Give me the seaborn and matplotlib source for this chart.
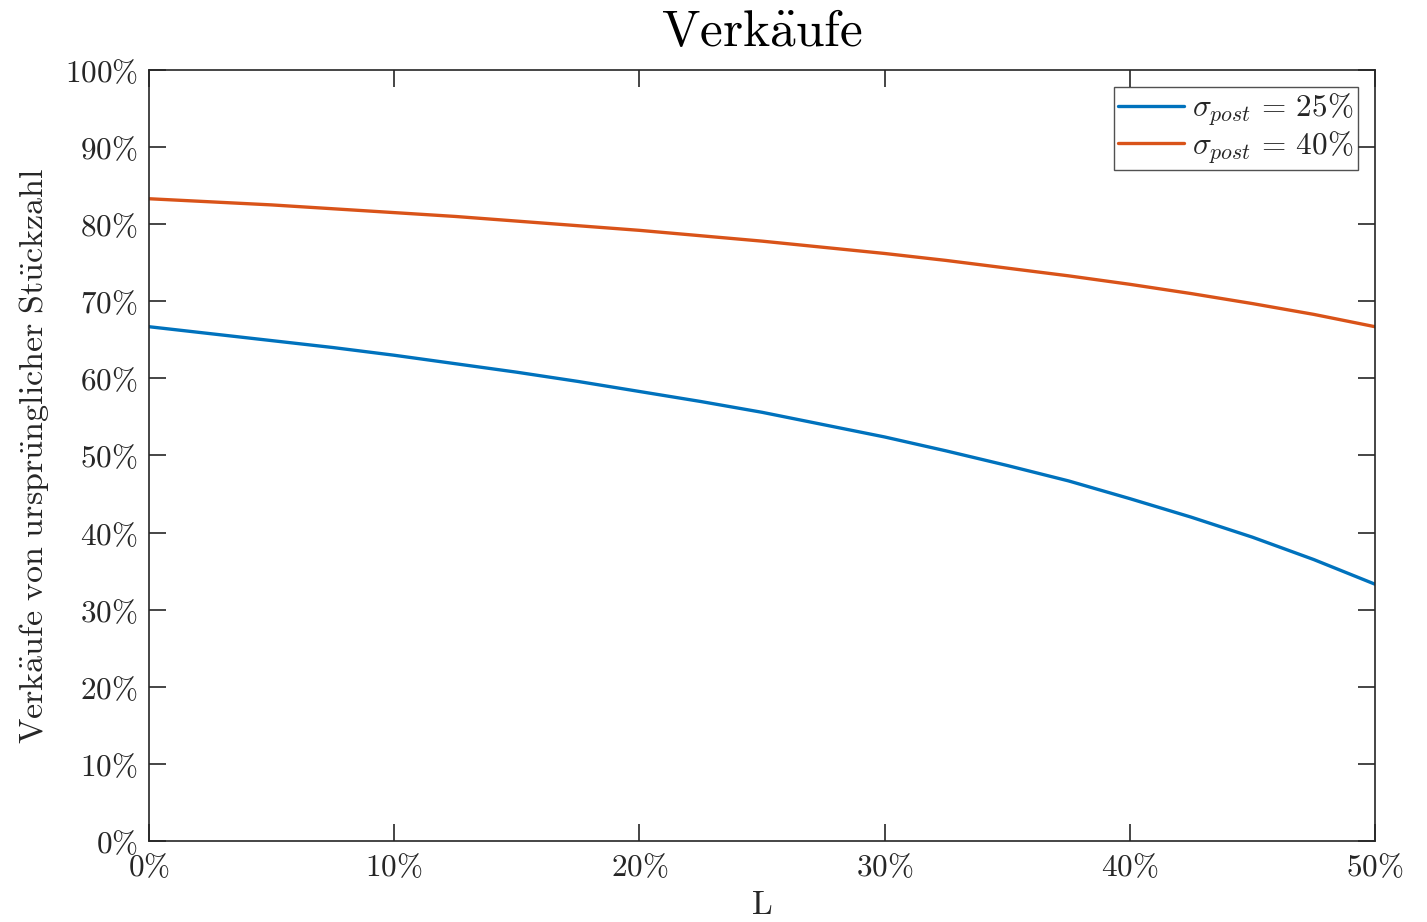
import numpy as np
import pandas as pd
import matplotlib
matplotlib.use('Agg')
import matplotlib.pyplot as plt
from matplotlib.ticker import FuncFormatter, MultipleLocator
import seaborn as sns

# L in percent, sales as percent of original quantity
L_values = [0, 2.5, 5, 7.5, 10, 12.5, 15, 17.5, 20, 22.5, 25,
            27.5, 30, 32.5, 35, 37.5, 40, 42.5, 45, 47.5, 50]
sales_sigma25 = [66.7, 65.8, 64.9, 64.0, 63.0, 61.9, 60.8, 59.6, 58.3, 57.0, 55.6,
                 54.0, 52.4, 50.6, 48.7, 46.7, 44.4, 42.0, 39.4, 36.5, 33.3]
sales_sigma40 = [83.3, 82.9, 82.5, 82.0, 81.5, 81.0, 80.4, 79.8, 79.2, 78.5, 77.8,
                 77.0, 76.2, 75.3, 74.3, 73.3, 72.2, 71.0, 69.7, 68.3, 66.7]
series_labels = [r'$\sigma_{post}\,=\,25\%$', r'$\sigma_{post}\,=\,40\%$']
series_colors = ['#0072BD', '#D95319']

df = pd.DataFrame({
    'L': L_values * 2,
    'sales': sales_sigma25 + sales_sigma40,
    'series': [series_labels[0]] * len(L_values) + [series_labels[1]] * len(L_values),
})

sns.set_theme(style='ticks')
plt.rcParams['mathtext.fontset'] = 'cm'
plt.rcParams['font.family'] = ['DejaVu Serif']
axis_color = '#262626'

fig = plt.figure(figsize=(14.27, 9.22), dpi=100)
ax = fig.add_axes([0.1044, 0.0879, 0.8592, 0.8362])

sns.lineplot(data=df, x='L', y='sales', hue='series', palette=series_colors,
             linewidth=2.4, ax=ax)

ax.set_xlim(0, 50)
ax.set_ylim(0, 100)
ax.xaxis.set_major_locator(MultipleLocator(10))
ax.yaxis.set_major_locator(MultipleLocator(10))
pct = FuncFormatter(lambda v, p: rf'${v:.0f}\%$')
ax.xaxis.set_major_formatter(pct)
ax.yaxis.set_major_formatter(pct)

ax.tick_params(direction='in', length=12, width=1.2, colors=axis_color,
               labelsize=22.5, top=True, right=True, pad=8)
for sp in ax.spines.values():
    sp.set_visible(True)
    sp.set_color(axis_color)
    sp.set_linewidth(1.2)

ax.set_title(r'$\mathrm{Verk\ddot{a}ufe}$', fontsize=37, pad=17, color='black')
ax.set_xlabel(r'$\mathrm{L}$', fontsize=24, color=axis_color, labelpad=4)
ax.set_ylabel(r'$\mathrm{Verk\ddot{a}ufe\ von\ urspr\ddot{u}nglicher\ St\ddot{u}ckzahl}$',
              fontsize=24.5, color=axis_color, labelpad=10)

leg = ax.legend(loc='upper right', fontsize=22.5, frameon=True, fancybox=False,
                edgecolor=axis_color, handlelength=2.1, handletextpad=0.25,
                borderpad=0.15, labelspacing=0.05, borderaxespad=0.55)
leg.get_frame().set_linewidth(1.0)
leg.set_title(None)

fig.savefig('out.png', dpi=100)
